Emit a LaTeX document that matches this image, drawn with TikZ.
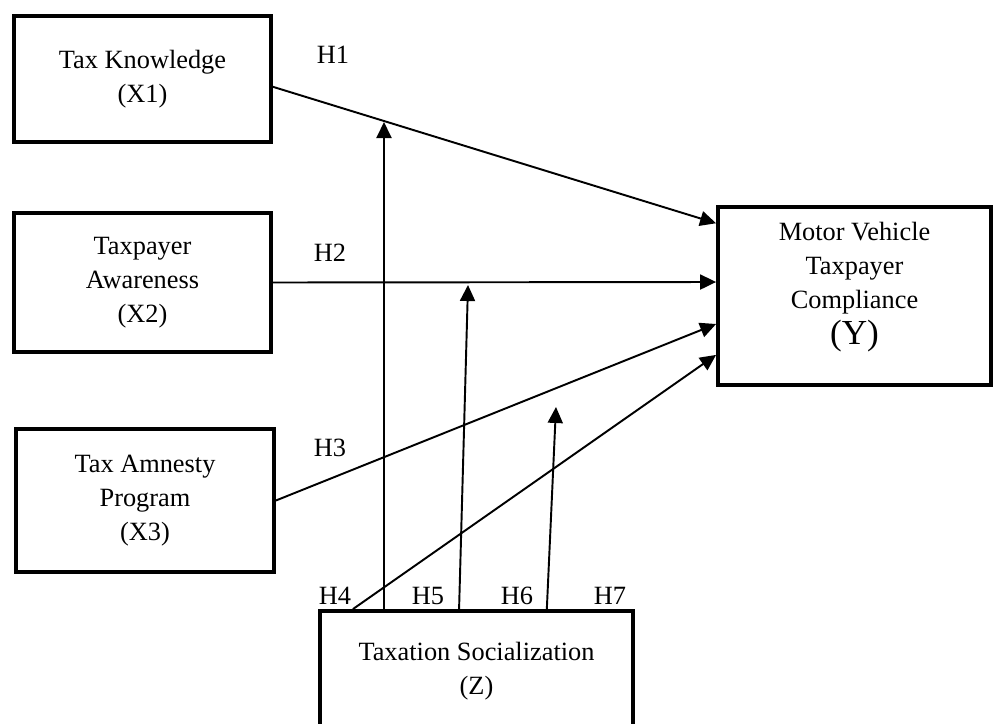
\documentclass[tikz,border=0pt]{standalone}
\usepackage{fontspec}
\setmainfont{Liberation Serif}
\usetikzlibrary{arrows.meta,calc}
\begin{document}
\begin{tikzpicture}[x=0.02cm,y=-0.02cm,
		font=\fontsize{15}{19.5}\selectfont,
		varbox/.style={draw, line width=2.2pt, align=center, inner sep=0pt},
		hlabel/.style={inner sep=0pt},
		link/.style={line width=1.1pt, -{Triangle[length=0.32cm,width=0.3cm]}}]
			\useasboundingbox (0,0) rectangle (995,724);
			
			\node	(x1) at (142.5,79) [varbox, minimum width=5.14cm, minimum height=2.52cm] {Tax Knowledge\\(X1)};
			\node	(x2) at (142.5,282.5) [varbox, minimum width=5.14cm, minimum height=2.78cm] {Taxpayer\\Awareness\\(X2)};
			\node	(x3) at (145,500.5) [varbox, minimum width=5.16cm, minimum height=2.86cm] {Tax Amnesty\\Program\\(X3)};
			\node	(y) at (854.5,296) [varbox, minimum width=5.46cm, minimum height=3.56cm] {};
			\node	(ytext) at (854.5,287) [align=center, inner sep=0pt] {Motor Vehicle\\Taxpayer\\Compliance\\[1pt]{\fontsize{20}{24}\selectfont (Y)}};
			\node	(z) at (476.5,671) [varbox, minimum width=6.26cm, minimum height=2.4cm] {Taxation Socialization\\(Z)};
			
			\node	(h1) at (333,55) [hlabel] {H1};
			\node	(h2) at (330,253) [hlabel] {H2};
			\node	(h3) at (330,448) [hlabel] {H3};
			\node	(h4) at (335,596) [hlabel] {H4};
			\node	(h5) at (428,596) [hlabel] {H5};
			\node	(h6) at (517,596) [hlabel] {H6};
			\node	(h7) at (610,596) [hlabel] {H7};
			
			% end points on the box sides
			\coordinate (x1out) at ($(x1.north east)!0.56!(x1.south east)$);
			\coordinate (y1in) at ($(y.north west)!0.1!(y.south west)$);
			\coordinate (y2in) at ($(y.north west)!0.423!(y.south west)$);
			\coordinate (y3in) at ($(y.north west)!0.654!(y.south west)$);
			\coordinate (y4in) at ($(y.north west)!0.824!(y.south west)$);
			\coordinate (z1out) at ($(z.north west)!0.11!(z.north east)$);
			\coordinate (z2out) at ($(z.north west)!0.208!(z.north east)$);
			\coordinate (z3out) at ($(z.north west)!0.445!(z.north east)$);
			\coordinate (z4out) at ($(z.north west)!0.722!(z.north east)$);
			
			% moderating arrow heads
			\coordinate (m1) at (384,122);
			\coordinate (m2) at (468,285);
			\coordinate (m3) at (556,407);
			
			\draw 
			(x1out) edge[link] (y1in)
			(x2.east) edge[link] (y2in)
			(x3.east) edge[link] (y3in)
			(z1out) edge[link] (y4in)
			(z2out) edge[link] (m1)
			(z3out) edge[link] (m2)
			(z4out) edge[link] (m3)
			;
		\end{tikzpicture}
\end{document}
